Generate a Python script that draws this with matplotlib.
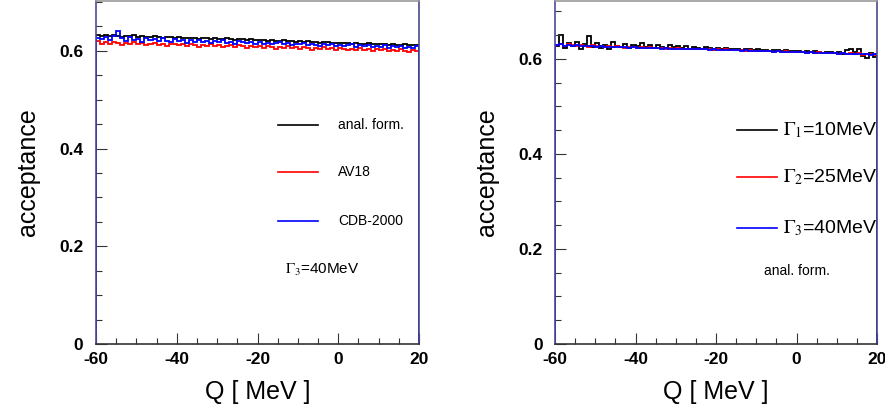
import numpy as np
import matplotlib
matplotlib.use("Agg")
import matplotlib.pyplot as plt
from matplotlib.ticker import MultipleLocator, FixedLocator

plt.rcParams['font.family'] = ['Liberation Sans', 'DejaVu Sans']
plt.rcParams['mathtext.fontset'] = 'stix'

# bin edges (Q in MeV)
q_edges = list(range(-60, 21, 1))

# left panel: Gamma3 = 40 MeV, different models
left_anal = [0.632,0.631,0.633,0.630,0.632,0.631,0.629,0.631,0.630,0.632,
             0.629,0.630,0.628,0.629,0.630,0.628,0.627,0.629,0.628,0.627,
             0.628,0.626,0.627,0.626,0.627,0.625,0.626,0.627,0.625,0.626,
             0.624,0.625,0.626,0.624,0.623,0.625,0.624,0.623,0.624,0.622,
             0.623,0.622,0.621,0.623,0.621,0.620,0.622,0.620,0.621,0.619,
             0.620,0.619,0.620,0.618,0.619,0.617,0.618,0.619,0.617,0.616,
             0.617,0.616,0.617,0.615,0.616,0.614,0.615,0.616,0.614,0.613,
             0.614,0.613,0.612,0.614,0.612,0.611,0.613,0.612,0.611,0.612]
left_av18 = [0.620,0.615,0.618,0.613,0.619,0.616,0.612,0.617,0.614,0.618,
             0.613,0.616,0.611,0.615,0.617,0.612,0.614,0.610,0.615,0.613,
             0.611,0.614,0.609,0.613,0.611,0.608,0.612,0.610,0.613,0.609,
             0.611,0.607,0.610,0.612,0.608,0.611,0.609,0.606,0.610,0.608,
             0.610,0.606,0.609,0.607,0.604,0.608,0.606,0.609,0.605,0.607,
             0.604,0.607,0.605,0.602,0.606,0.604,0.607,0.603,0.605,0.602,
             0.605,0.603,0.601,0.604,0.602,0.605,0.601,0.603,0.600,0.603,
             0.601,0.604,0.600,0.602,0.599,0.603,0.600,0.598,0.602,0.599]
left_cdb = [0.627,0.624,0.629,0.622,0.630,0.641,0.626,0.621,0.628,0.623,
            0.625,0.619,0.627,0.622,0.624,0.620,0.626,0.621,0.618,0.624,
            0.620,0.623,0.617,0.622,0.619,0.623,0.618,0.621,0.616,0.620,
            0.618,0.622,0.617,0.619,0.615,0.620,0.618,0.616,0.619,0.615,
            0.618,0.614,0.617,0.613,0.616,0.618,0.613,0.616,0.612,0.615,
            0.613,0.616,0.611,0.614,0.612,0.609,0.614,0.611,0.613,0.610,
            0.612,0.609,0.611,0.613,0.608,0.611,0.609,0.612,0.607,0.610,
            0.608,0.611,0.606,0.609,0.607,0.610,0.605,0.608,0.606,0.609]

# right panel: analytic formula, different widths
right_g10 = [0.628,0.650,0.624,0.633,0.627,0.635,0.622,0.631,0.649,0.626,
             0.634,0.623,0.630,0.621,0.636,0.628,0.625,0.632,0.624,0.630,
             0.627,0.633,0.625,0.629,0.623,0.630,0.626,0.624,0.629,0.625,
             0.627,0.624,0.628,0.622,0.626,0.624,0.621,0.625,0.623,0.622,
             0.624,0.621,0.623,0.620,0.622,0.621,0.619,0.621,0.620,0.619,
             0.620,0.618,0.619,0.617,0.619,0.618,0.616,0.618,0.617,0.616,
             0.617,0.615,0.616,0.614,0.616,0.615,0.613,0.615,0.614,0.612,
             0.614,0.611,0.619,0.621,0.614,0.620,0.606,0.602,0.612,0.604]
right_g25 = [0.630,0.632,0.628,0.631,0.629,0.627,0.630,0.628,0.626,0.629,
             0.627,0.628,0.626,0.627,0.625,0.627,0.626,0.624,0.626,0.625,
             0.624,0.625,0.623,0.625,0.624,0.623,0.624,0.622,0.623,0.622,
             0.623,0.621,0.622,0.621,0.622,0.620,0.621,0.620,0.621,0.619,
             0.620,0.619,0.620,0.618,0.619,0.618,0.619,0.617,0.618,0.617,
             0.617,0.616,0.617,0.616,0.615,0.616,0.615,0.616,0.614,0.615,
             0.614,0.615,0.613,0.614,0.613,0.614,0.612,0.613,0.612,0.613,
             0.611,0.612,0.611,0.613,0.610,0.612,0.609,0.611,0.610,0.609]
right_g40 = [0.629,0.631,0.627,0.630,0.628,0.629,0.627,0.628,0.627,0.628,
             0.626,0.627,0.626,0.626,0.625,0.626,0.625,0.625,0.624,0.625,
             0.624,0.624,0.623,0.624,0.623,0.623,0.622,0.623,0.622,0.622,
             0.622,0.621,0.621,0.621,0.620,0.621,0.620,0.620,0.619,0.620,
             0.619,0.619,0.618,0.619,0.618,0.618,0.617,0.618,0.617,0.617,
             0.616,0.617,0.616,0.616,0.615,0.616,0.615,0.615,0.614,0.615,
             0.614,0.614,0.613,0.614,0.613,0.613,0.612,0.613,0.612,0.612,
             0.611,0.612,0.611,0.611,0.610,0.611,0.610,0.610,0.609,0.610]

x_ticks = [-60, -40, -20, 0, 20]
y_ticks = [0, 0.2, 0.4, 0.6]
y_ticklabels = ['0', '0.2', '0.4', '0.6']

left_labels = ['anal. form.', 'AV18', 'CDB-2000']
left_note = r'$\Gamma_3$=40MeV'
right_labels = [r'$\Gamma_1$=10MeV', r'$\Gamma_2$=25MeV', r'$\Gamma_3$=40MeV']
right_note = 'anal. form.'

colors = ['black', '#ff0000', '#0000ff']

W, H = 885, 415
fig = plt.figure(figsize=(W / 100, H / 100), dpi=100)

def px_axes(x0, x1, y0, y1):
    return fig.add_axes([x0 / W, 1 - y1 / H, (x1 - x0) / W, (y1 - y0) / H])

axL = px_axes(96, 419, 1, 344)
axR = px_axes(555, 877, 1, 344)

def style(ax, ymax):
    ax.set_xlim(-60, 20)
    ax.set_ylim(0, ymax)
    ax.xaxis.set_major_locator(FixedLocator(x_ticks))
    ax.xaxis.set_minor_locator(MultipleLocator(5))
    ax.yaxis.set_major_locator(FixedLocator(y_ticks))
    ax.yaxis.set_minor_locator(MultipleLocator(0.05))
    ax.set_xticklabels([str(v) for v in x_ticks], fontsize=12.5, fontweight='bold')
    ax.set_yticklabels(y_ticklabels, fontsize=12.5, fontweight='bold')
    ax.tick_params(which='both', direction='in', top=False, right=False)
    ax.tick_params(which='major', length=8, width=0.8, color='#333333')
    ax.tick_params(which='minor', length=4, width=0.8, color='#333333')
    ax.tick_params(axis='x', pad=6)
    ax.tick_params(axis='y', pad=9)
    ax.spines['left'].set_color('#4a4a9a')
    ax.spines['right'].set_color('#4a4a8a')
    ax.spines['top'].set_color('#999999')
    ax.spines['bottom'].set_color('#333333')
    for s in ax.spines.values():
        s.set_linewidth(1.2)
    ax.set_xlabel('Q [ MeV ]', fontsize=18, labelpad=9)
    ax.set_ylabel('acceptance', fontsize=18, labelpad=14)

style(axL, 0.702)
style(axR, 0.722)

for vals, c in zip([left_anal, left_av18, left_cdb], colors):
    axL.stairs(vals, q_edges, color=c, lw=1.3)
for vals, c in zip([right_g10, right_g25, right_g40], colors):
    axR.stairs(vals, q_edges, color=c, lw=1.3)

def legend_px(items, x_line0, x_line1, x_text, ys, fs):
    for (lab, c, y) in zip(items, colors, ys):
        fig.add_artist(plt.Line2D([x_line0 / W, x_line1 / W], [1 - y / H, 1 - y / H],
                                  color=c, lw=1.2, transform=fig.transFigure))
        fig.text(x_text / W, 1 - y / H, lab, fontsize=fs, va='center', ha='left')

legend_px(left_labels, 278, 318, 338, [125, 172, 221], 10)
fig.text(285 / W, 1 - 270 / H, left_note, fontsize=11, va='center', ha='left')

legend_px(right_labels, 737, 777, 783, [130, 177, 228], 14)
fig.text(797 / W, 1 - 271 / H, right_note, fontsize=10, va='center', ha='center')

fig.savefig('out.png', dpi=100)
